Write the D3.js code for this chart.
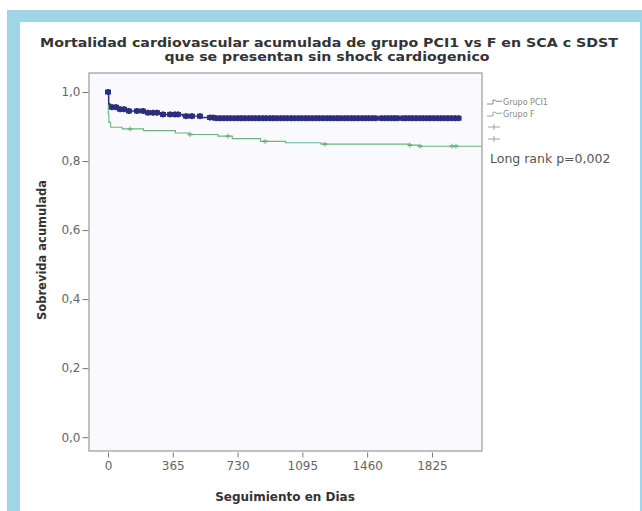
<!DOCTYPE html>
<html><head><meta charset="utf-8">
<script src="https://cdn.jsdelivr.net/npm/d3@7/dist/d3.min.js"></script>
<style>body{margin:0;background:#fff}svg{display:block}</style>
</head><body>
<script>
// ---- data ----
const titleLines = ["Mortalidad cardiovascular acumulada de grupo PCI1 vs F en SCA c SDST", "que se presentan sin shock cardiogenico"];
const xTicks = [0, 365, 730, 1095, 1460, 1825];
const yTicks = [0, 0.2, 0.4, 0.6, 0.8, 1.0];
const seriesNames = ["Grupo PCI1", "Grupo F"];
// step curves: [day, cumulative survival]
const pciSteps = [[0,1.0],[4,0.965],[12,0.956],[50,0.95],[110,0.945],[200,0.94],[300,0.935],[420,0.93],[520,0.926],[600,0.924],[1983,0.924]];
const fSteps = [[0,1.0],[2,0.935],[5,0.912],[15,0.898],[80,0.893],[200,0.888],[380,0.881],[460,0.877],[620,0.872],[700,0.865],[860,0.857],[1000,0.853],[1200,0.849],[1700,0.846],[1750,0.843],[2105,0.843]];
// censored observations (days)
const pciCensor = [0,22,45,68,90,118,163,197,225,253,276,310,350,377,394,440,473,518,575,
  592,610,630,652,671,690,712,733,751,770,792,812,830,851,872,890,911,930,950,972,990,1010,1031,1050,1071,1090,1112,1130,1151,1172,1190,1210,1232,1251,1270,1291,1310,1332,1350,1371,1390,1410,1431,1450,1470,1490,1508,
  1540,1560,1578,1597,1615,1632,
  1660,1678,1697,1715,1735,1755,1775,1795,1815,1835,1855,1875,1895,1915,1935,1955,1975];
const fCensor = [124,462,676,885,1222,1701,1758,1938,1960];
const pValueText = "Long rank p=0,002";

// ---- chart ----
const W = 642, H = 511;
const svg = d3.select("body").append("svg").attr("width", W).attr("height", H);
// frame
svg.append("rect").attr("x",7).attr("y",10).attr("width",W-7).attr("height",H-10).attr("fill","#9fd6e7");
svg.append("rect").attr("x",20).attr("y",22).attr("width",620).attr("height",H-22).attr("fill","#ffffff");

const x = d3.scaleLinear().domain([-107, 2107]).range([89, 482]);
const y = d3.scaleLinear().domain([-0.04, 1.055]).range([451, 73]);

svg.append("rect").attr("x",89).attr("y",73).attr("width",393).attr("height",378)
  .attr("fill","#f9f9fe").attr("stroke","#9a9a9a").attr("stroke-width",1.2);

const font = "DejaVu Sans, Verdana, sans-serif";
// title
const tl = svg.append("g").attr("font-family",font).attr("font-weight","bold").attr("font-size",12).attr("fill","#333").attr("text-anchor","middle");
tl.append("text").attr("x",329).attr("y",47).attr("textLength",578).attr("lengthAdjust","spacingAndGlyphs").text(titleLines[0]);
tl.append("text").attr("x",327).attr("y",61).attr("textLength",325).attr("lengthAdjust","spacingAndGlyphs").text(titleLines[1]);

// axes
const yAxis = d3.axisLeft(y).tickValues(yTicks).tickSize(6).tickPadding(2)
  .tickFormat(d => d3.format(".1f")(d).replace(".", ","));
const gy = svg.append("g").attr("transform","translate(88.5,0)").call(yAxis);
const xAxis = d3.axisBottom(x).tickValues(xTicks).tickSize(5).tickPadding(4).tickFormat(d3.format("d"));
const gx = svg.append("g").attr("transform","translate(0,452.5)").call(xAxis);
[gx, gy].forEach(g => {
  g.select(".domain").remove();
  g.selectAll(".tick line").attr("stroke","#777");
  g.selectAll(".tick text").attr("fill","#666").attr("font-family",font).attr("font-size",12);
});

svg.append("text").attr("x",285).attr("y",501).attr("text-anchor","middle")
  .attr("font-family",font).attr("font-weight","bold").attr("font-size",12).attr("fill","#333")
  .text("Seguimiento en Dias");
svg.append("text").attr("transform","translate(46,250) rotate(-90)").attr("text-anchor","middle")
  .attr("font-family",font).attr("font-weight","bold").attr("font-size",11.5).attr("fill","#333")
  .text("Sobrevida acumulada");

// curves
const line = d3.line().x(d => x(d[0])).y(d => y(d[1])).curve(d3.curveStepAfter);
const colPCI = "#2b2d7d", colF = "#6db57e";
const plot = svg.append("g");
plot.append("path").datum(fSteps).attr("d", line).attr("fill","none").attr("stroke",colF).attr("stroke-width",1.1);
plot.append("path").datum(pciSteps).attr("d", line).attr("fill","none").attr("stroke",colPCI).attr("stroke-width",1.4);

const bis = d3.bisector(d => d[0]).right;
const survAt = (steps, t) => steps[Math.max(0, bis(steps, t) - 1)][1];

function censor(data, steps, col, h, sw, hw, hsw) {
  const g = plot.append("g").attr("stroke", col);
  data.forEach(t => {
    const cx = x(t), cy = y(survAt(steps, t));
    g.append("line").attr("x1",cx).attr("x2",cx).attr("y1",cy-h).attr("y2",cy+h).attr("stroke-width",sw);
    g.append("line").attr("x1",cx-hw).attr("x2",cx+hw).attr("y1",cy).attr("y2",cy).attr("stroke-width",hsw);
  });
}
censor(fCensor, fSteps, colF, 2.5, 1, 2.5, 2);
censor(pciCensor, pciSteps, colPCI, 3, 2, 3, 5);

// legend
const lg = svg.append("g").attr("font-family",font).attr("font-size",8).attr("fill","#888");
const glyph = (yy, col) => {
  lg.append("path").attr("d",`M487,${yy+2}h6v-4q2,0 3,1t6,0`).attr("fill","none").attr("stroke",col).attr("stroke-width",0.9);
};
glyph(102, "#7a7a9a"); glyph(114, "#8aa590");
lg.append("text").attr("x",503).attr("y",105).text(seriesNames[0]);
lg.append("text").attr("x",503).attr("y",117).text(seriesNames[1]);
[127,139].forEach(yy => {
  lg.append("line").attr("x1",488).attr("x2",500).attr("y1",yy).attr("y2",yy).attr("stroke","#999").attr("stroke-width",0.9);
  lg.append("line").attr("x1",494).attr("x2",494).attr("y1",yy-3).attr("y2",yy+3).attr("stroke","#999").attr("stroke-width",0.9);
});
svg.append("text").attr("x",490).attr("y",163).attr("font-family",font).attr("font-size",12.5).attr("fill","#555").text(pValueText);
</script>
</body></html>
